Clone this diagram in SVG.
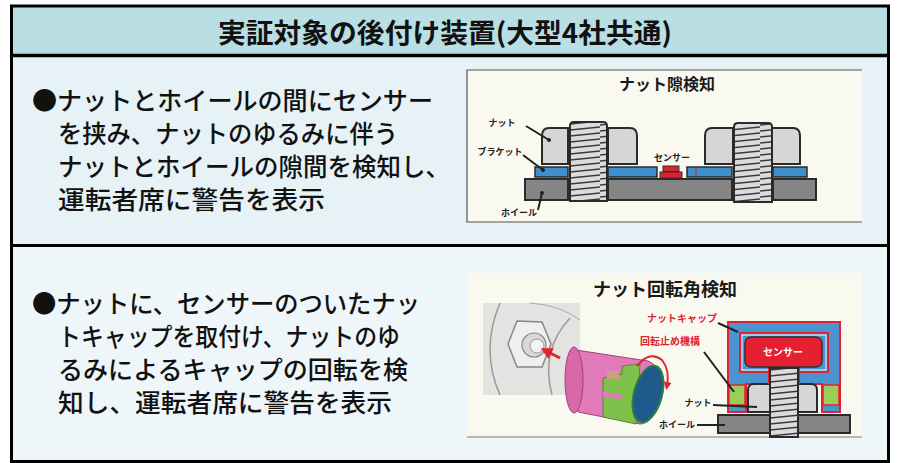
<svg xmlns="http://www.w3.org/2000/svg" width="906" height="463" viewBox="0 0 906 463">
<style>
.body{font-family:"Noto Sans CJK JP","Noto Sans",sans-serif;font-size:25px;font-weight:500;fill:#111}
.head{font-family:"Noto Sans CJK JP","Noto Sans",sans-serif;font-size:27px;font-weight:bold;fill:#111}
.ttl{font-family:"Noto Sans CJK JP",sans-serif;font-weight:bold;fill:#1a1a1a;text-anchor:middle}
.lbl{font-family:"Noto Sans CJK JP",sans-serif;font-weight:bold;font-size:9px;fill:#222;text-anchor:middle}
.rlbl{font-family:"Noto Sans CJK JP",sans-serif;font-weight:bold;font-size:10px;fill:#e02530;text-anchor:middle}
.nut{fill:#d6d6d6;stroke:#2a2a2a;stroke-width:2}
.bolt{fill:url(#thr);stroke:#2a2a2a;stroke-width:2}
.brk{fill:#3f8fcc;stroke:#2a2a2a;stroke-width:1.5}
.whl{fill:#858585;stroke:#2a2a2a;stroke-width:2}
.lead{stroke:#222;stroke-width:2;fill:none}
.frame{fill:#f9f9ef}
</style>
<defs>
<pattern id="thr" patternUnits="userSpaceOnUse" width="40" height="6">
<rect width="40" height="6" fill="#dcdcdc"/>
<path d="M0 5 L40 1" stroke="#3a3a3a" stroke-width="1.6"/>
</pattern>
<marker id="ah" viewBox="0 0 10 10" refX="5" refY="5" markerWidth="4" markerHeight="4" orient="auto">
<path d="M0 0 L10 5 L0 10 Z" fill="#e02530"/>
</marker>
</defs>

<!-- backgrounds -->
<rect x="11.5" y="6" width="877" height="49.5" fill="#b9dfe4"/>
<rect x="11.5" y="55.5" width="877" height="190" fill="#e6f2f5"/>
<rect x="11.5" y="245.5" width="877" height="216" fill="#eef6f9"/>

<g id="header">
<text class="head" x="218" y="43" textLength="454" lengthAdjust="spacingAndGlyphs">実証対象の後付け装置(大型4社共通)</text>
</g>

<g id="text1">
<text class="body" x="32" y="110" textLength="401" lengthAdjust="spacingAndGlyphs">●ナットとホイールの間にセンサー</text>
<text class="body" x="58" y="143" textLength="340" lengthAdjust="spacingAndGlyphs">を挟み、ナットのゆるみに伴う</text>
<text class="body" x="58" y="176" textLength="392" lengthAdjust="spacingAndGlyphs">ナットとホイールの隙間を検知し、</text>
<text class="body" x="58" y="209" textLength="267" lengthAdjust="spacingAndGlyphs">運転者席に警告を表示</text>
</g>

<g id="text2">
<text class="body" x="32" y="313" textLength="388" lengthAdjust="spacingAndGlyphs">●ナットに、センサーのついたナッ</text>
<text class="body" x="58" y="346" textLength="342" lengthAdjust="spacingAndGlyphs">トキャップを取付け、ナットのゆ</text>
<text class="body" x="58" y="379" textLength="350" lengthAdjust="spacingAndGlyphs">るみによるキャップの回転を検</text>
<text class="body" x="58" y="412" textLength="334" lengthAdjust="spacingAndGlyphs">知し、運転者席に警告を表示</text>
</g>

<!-- top figure -->
<g id="fig-gap">
<rect class="frame" x="467" y="70" width="395" height="152"/>
<path d="M862 70 H467 V222 H862" fill="none" stroke="#555" stroke-width="1.2"/>
<text class="ttl" x="667" y="90" font-size="16">ナット隙検知</text>
<rect class="whl" x="525" y="179" width="43" height="21"/>
<rect class="whl" x="608" y="179" width="124" height="21"/>
<rect class="whl" x="773" y="179" width="43" height="21"/>
<rect class="brk" x="535" y="167" width="33" height="10"/>
<rect class="brk" x="608" y="167" width="49" height="10"/>
<rect class="brk" x="687" y="167" width="45" height="10"/>
<rect class="brk" x="773" y="167" width="34" height="10"/>
<rect x="660" y="172" width="22" height="6" fill="#e02030" stroke="#333" stroke-width="1"/>
<rect x="663" y="166" width="16" height="5.5" fill="#e02030" stroke="#333" stroke-width="1"/>
<line x1="696" y1="167" x2="696" y2="177" stroke="#e02030" stroke-width="1.5" stroke-dasharray="2 1.5"/>
<path class="nut" d="M568 128 H549 Q542 128 542 136 V164 H568 Z"/>
<path class="nut" d="M608 128 H630 Q637 128 637 136 V164 H608 Z"/>
<path class="nut" d="M733 128 H712 Q705 128 705 136 V164 H733 Z"/>
<path class="nut" d="M772 128 H793 Q800 128 800 136 V164 H772 Z"/>
<path class="bolt" d="M570 201 V126 Q570 122 574 122 H603 Q607 122 607 126 V201 Z"/>
<path class="bolt" d="M734 202 V127 Q734 123 738 123 H768 Q772 123 772 127 V202 Z"/>
<text class="lbl" x="502" y="126">ナット</text>
<text class="lbl" x="500" y="155">ブラケット</text>
<text class="lbl" x="672" y="161">センサー</text>
<text class="lbl" x="519" y="216">ホイール</text>
<path class="lead" d="M526 126 L549 140"/>
<circle cx="549" cy="140" r="2" fill="#222"/>
<path class="lead" d="M523 155 L543 170"/>
<circle cx="543" cy="170" r="2" fill="#222"/>
<path class="lead" d="M538 210 L542 193"/>
<circle cx="542" cy="193" r="2" fill="#222"/>
</g>

<!-- bottom figure -->
<g id="fig-rotation">
<rect class="frame" x="467" y="273" width="395" height="164"/>
<line x1="467" y1="437" x2="862" y2="437" stroke="#777" stroke-width="1.2"/>
<text class="ttl" x="665" y="296" font-size="18">ナット回転角検知</text>
<rect x="483" y="303" width="97" height="92" fill="#e3e3e1"/>
<path d="M500 303 Q480 350 500 395" fill="none" stroke="#9a9a9a" stroke-width="1.5"/>
<path d="M570 318 Q540 350 552 395" fill="none" stroke="#9a9a9a" stroke-width="1.5"/>
<path d="M530 303 Q560 305 580 320" fill="none" stroke="#aaa" stroke-width="1"/>
<polygon points="517,321 542,322 551,344 542,367 517,367 508,344" fill="#efefef" stroke="#888" stroke-width="1.5"/>
<circle cx="534" cy="345" r="12" fill="#d8d8d8" stroke="#888" stroke-width="1.2"/>
<circle cx="537" cy="346" r="7" fill="#f2f2f2" stroke="#999" stroke-width="1"/>
<line x1="560" y1="358" x2="546" y2="351" stroke="#e02530" stroke-width="3" marker-end="url(#ah)"/>
<path d="M576 350 L648 361 Q665 368 660 395 Q654 424 640 424 L578 412 Z" fill="#e07ab8" stroke="#a04080" stroke-width="1"/>
<ellipse cx="574" cy="380" rx="9" ry="33" fill="#d868a8" stroke="#a04080" stroke-width="1"/>
<path d="M603 378 L622 374 L622 366 L640 364 L636 424 L603 417 Z" fill="#7fc04a" stroke="#4a7a30" stroke-width="0.8"/>
<rect x="607" y="371" width="12" height="8" fill="#c8a080"/>
<path d="M603 392 L622 394 L622 399 L603 397 Z" fill="#e07ab8"/>
<ellipse cx="648" cy="394" rx="14" ry="29" transform="rotate(15 648 394)" fill="#1f5a8c" stroke="#2a8040" stroke-width="2"/>
<path d="M637 366 Q650 350 662 360 Q670 370 667 386" fill="none" stroke="#e02530" stroke-width="2" marker-end="url(#ah)"/>
<rect class="whl" x="718" y="415" width="132" height="18"/>
<path d="M728 322 H840 V412 H822 V384 H746 V412 H728 Z" fill="#4a94d0" stroke="#e52030" stroke-width="2"/>
<rect x="740" y="333" width="88" height="39" fill="#4a94d0" stroke="#e52030" stroke-width="2"/>
<rect x="742" y="335" width="84" height="35" fill="none" stroke="#fff" stroke-width="1"/>
<rect x="745" y="337" width="77" height="30" rx="6" fill="#e52030" stroke="#333" stroke-width="1.5"/>
<text x="783" y="356" font-family="Noto Sans CJK JP,sans-serif" font-size="10" font-weight="bold" fill="#fff" text-anchor="middle">センサー</text>
<path class="nut" d="M748 412 V390 Q748 384 754 384 H811 Q817 384 817 390 V412 Z"/>
<rect x="729" y="385" width="16" height="20" fill="#9ccc5a" stroke="#e52030" stroke-width="1.5"/>
<rect x="823" y="385" width="16" height="20" fill="#9ccc5a" stroke="#e52030" stroke-width="1.5"/>
<rect x="768" y="368" width="32" height="16" fill="#e52030"/>
<rect class="bolt" x="770" y="368" width="28" height="69"/>
<text class="rlbl" x="682" y="322">ナットキャップ</text>
<text class="rlbl" x="670" y="345">回転止め機構</text>
<text class="lbl" x="698" y="406">ナット</text>
<text class="lbl" x="677" y="428">ホイール</text>
<path class="lead" d="M718 323 L738 332"/>
<path class="lead" d="M704 352 L734 392"/>
<path class="lead" d="M713 405 L757 407"/>
<path class="lead" d="M697 425 L725 425"/>
</g>

<g id="borders" fill="none" stroke="#000">
<rect x="11.5" y="6" width="877" height="455.5" stroke-width="3"/>
<line x1="11.5" y1="55.5" x2="888.5" y2="55.5" stroke-width="3.5"/>
<line x1="11.5" y1="245.5" x2="888.5" y2="245.5" stroke-width="3"/>
</g>
</svg>
